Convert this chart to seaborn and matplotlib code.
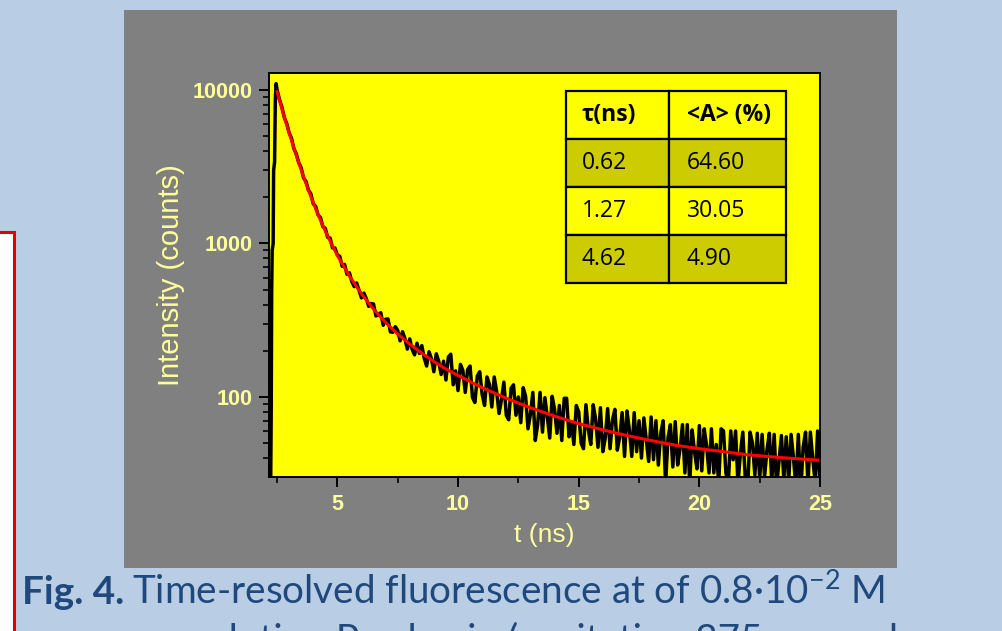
import numpy as np
import pandas as pd
import matplotlib
matplotlib.use("Agg")
import matplotlib.pyplot as plt
import matplotlib.ticker as mticker
from matplotlib.patches import Rectangle
import seaborn as sns

# measured decay: rising edge (t in ns, counts)
t_rise = [2.20, 2.24, 2.26, 2.28, 2.30, 2.34, 2.36, 2.40, 2.43, 2.46, 2.48]
counts_rise = [26, 30, 80, 500, 900, 1000, 3000, 3400, 8500, 11000, 10600]

# measured decay after the peak, one channel every 0.1 ns from 2.5 to 25 ns
t_decay = np.round(np.arange(2.5, 25.001, 0.1), 2)
counts_decay = [
    10080, 8700, 7750, 6640, 6060, 5280, 4845, 4150, 3825, 3360,
    3115, 2670, 2540, 2230, 2110, 1815, 1745, 1535, 1475, 1285,
    1255, 1095, 1085, 935, 935, 840, 825, 710, 730, 630,
    644, 564, 523, 553, 495, 442, 475, 437, 389, 406,
    403, 337, 344, 354, 293, 321, 322, 265, 264, 287,
    272, 232, 266, 240, 205, 239, 204, 188, 224, 192,
    216, 179, 159, 197, 177, 146, 191, 171, 140, 171,
    129, 182, 190, 120, 148, 110, 163, 149, 107, 151,
    159, 99, 92, 137, 146, 104, 88, 135, 121, 86,
    135, 109, 78, 96, 125, 76, 71, 114, 120, 76,
    100, 68, 115, 101, 62, 77, 107, 52, 66, 107,
    59, 99, 74, 54, 101, 83, 58, 88, 52, 98,
    98, 55, 69, 49, 88, 80, 50, 46, 89, 61,
    49, 89, 72, 47, 85, 44, 54, 84, 46, 71,
    83, 45, 55, 79, 41, 81, 61, 41, 79, 44,
    70, 40, 73, 53, 38, 74, 39, 70, 36, 58,
    70, 27, 54, 66, 35, 69, 36, 46, 66, 32,
    66, 27, 61, 44, 34, 65, 33, 62, 48, 32,
    62, 32, 49, 27, 62, 60, 32, 27, 60, 39,
    60, 27, 43, 59, 30, 25, 59, 50, 31, 58,
    29, 57, 30, 45, 58, 28, 57, 26, 38, 56,
    29, 55, 28, 57, 40, 26, 57, 24, 47, 59,
    27, 59, 39, 28, 60, 27,
]

# fitted curve (red)
t_fit = [2.5, 2.6, 2.7, 2.8, 2.9, 3.0, 3.2, 3.4, 3.6, 3.8, 4.0, 4.25, 4.5, 4.75,
         5.0, 5.5, 6.0, 6.5, 7.0, 7.5, 8.0, 8.5, 9.0, 9.5, 10, 11, 12, 13, 14,
         15, 16, 17, 18, 19, 20, 21, 22, 23, 24, 25]
counts_fit = [9790, 8615, 7600, 6710, 5945, 5280, 4190, 3360, 2725, 2230, 1850,
              1480, 1205, 1000, 838, 613, 470, 373, 306, 257, 221, 193, 170, 152,
              138, 115, 98, 85, 75, 67, 61, 56, 52, 48.5, 46, 44, 42, 40.7, 39.6,
              38.7]

# lifetimes table
tau_ns = ["0.62", "1.27", "4.62"]
amp_pct = ["64.60", "30.05", "4.90"]

data = pd.DataFrame({"t": list(t_rise) + list(t_decay),
                     "counts": counts_rise + counts_decay})
fit = pd.DataFrame({"t": t_fit, "counts": counts_fit})

sns.set_style("ticks")
plt.rcParams["font.family"] = ["Liberation Sans", "DejaVu Sans"]
plt.rcParams["mathtext.fontset"] = "custom"
plt.rcParams["mathtext.rm"] = "Lato"
plt.rcParams["mathtext.bf"] = "Lato:bold"

pale = "#ffff99"
navy = "#1f497d"

fig = plt.figure(figsize=(10.02, 6.31), dpi=100, facecolor="#b9cde4")
fig.patches.append(Rectangle((0.1238, 0.0998), 0.7715, 0.8843, transform=fig.transFigure,
                             facecolor="#808080", edgecolor="none", zorder=-5))
fig.patches.append(Rectangle((-0.02, -0.05), 0.034, 0.6823, transform=fig.transFigure,
                             facecolor="white", edgecolor="#e00000", lw=2.2, zorder=-5))

ax = fig.add_axes([0.2685, 0.2441, 0.5499, 0.6402])
ax.set_facecolor("#ffff00")

sns.lineplot(data=data, x="t", y="counts", ax=ax, color="black", lw=2.5,
             estimator=None, sort=False, legend=False)
sns.lineplot(data=fit, x="t", y="counts", ax=ax, color="red", lw=2.2,
             estimator=None, sort=False, legend=False)

ax.set_yscale("log")
ax.set_xlim(2.17, 25)
ax.set_ylim(30.1, 12900)

ax.set_xticks([5, 10, 15, 20, 25])
ax.xaxis.set_minor_locator(mticker.FixedLocator([2.5, 7.5, 12.5, 17.5, 22.5]))
ax.set_yticks([100, 1000, 10000])
ax.yaxis.set_major_formatter(mticker.FuncFormatter(lambda v, p: f"{v:.0f}"))
ax.yaxis.set_minor_locator(mticker.LogLocator(base=10, subs=np.arange(2, 10)))
ax.yaxis.set_minor_formatter(mticker.NullFormatter())

ax.tick_params(which="major", direction="out", length=7, width=1.4, color="black",
               labelsize=15.5, labelcolor=pale, pad=5)
ax.tick_params(which="minor", direction="out", length=4, width=1.2, color="black")
plt.setp(ax.get_xticklabels() + ax.get_yticklabels(), fontweight="bold")
for s in ax.spines.values():
    s.set_color("black")
    s.set_linewidth(1.4)

ax.set_xlabel("t (ns)", fontsize=19, color=pale, labelpad=6)
ax.set_ylabel("Intensity (counts)", fontsize=21, color=pale, labelpad=5)

# table with the fit results
rows = [[a, b] for a, b in zip(tau_ns, amp_pct)]
tab = ax.table(cellText=rows, colLabels=["τ(ns)", "<A> (%)"], cellLoc="left",
               colLoc="left", colWidths=[0.47, 0.53],
               bbox=[0.539, 0.4802, 0.3984, 0.4752])
tab.auto_set_font_size(False)
tab.set_zorder(5)
for (r, c), cell in tab.get_celld().items():
    cell.set_edgecolor("black")
    cell.set_linewidth(1.6)
    cell.set_facecolor("#cccc00" if r in (1, 3) else "#ffff00")
    cell.PAD = 0.15
    txt = cell.get_text()
    txt.set_fontsize(16.5)
    txt.set_fontfamily(["Open Sans", "DejaVu Sans"])
    txt.set_color("black")
    if r == 0:
        txt.set_fontweight("bold")

# caption below the panel
renderer = fig.canvas.get_renderer()
cap_y = 0.042
head = fig.text(0.022, cap_y, "Fig. 4.", fontsize=27.8, family="Lato",
                fontweight="bold", color=navy, va="baseline")
hb = head.get_window_extent(renderer=renderer)
fig.text((hb.x1 + 8) / fig.bbox.width, cap_y,
         r"Time-resolved fluorescence at of 0.8·10$^{-2}$ M",
         fontsize=27.8, family="Lato", color=navy, va="baseline")
fig.text(0.19, -0.032, "solution Prodan in (excitation 375 nm and",
         fontsize=27.8, family="Lato", color=navy, va="baseline")

fig.savefig("out.png", dpi=100, facecolor=fig.get_facecolor())
